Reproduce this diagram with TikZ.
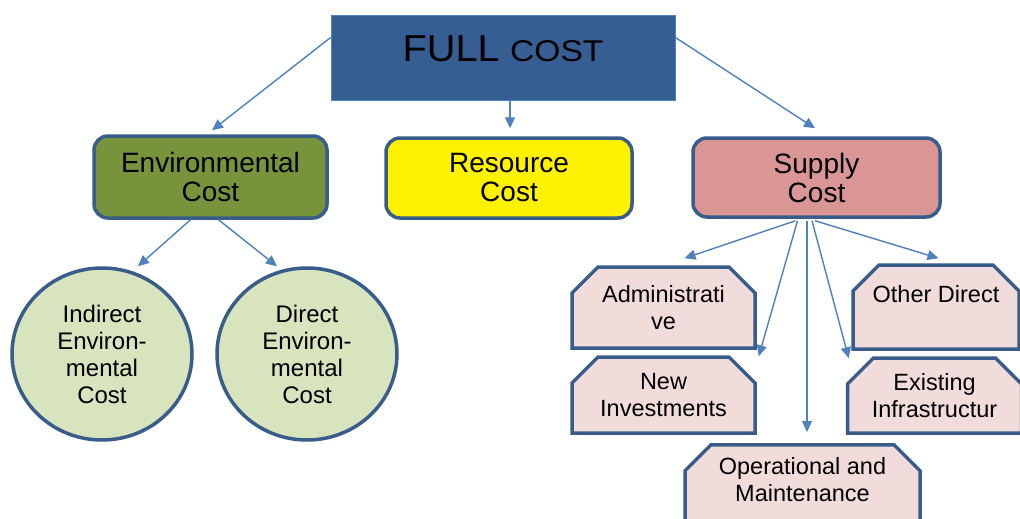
\documentclass[tikz,border=0pt]{standalone}
\usepackage{fontspec}
\usepackage{graphicx}
\setmainfont{Liberation Sans}
\usetikzlibrary{shapes.misc,shapes.geometric,arrows.meta,calc}
\definecolor{fullblue}{RGB}{54,94,146}
\definecolor{edgeblue}{RGB}{56,93,138}
\definecolor{arrowc}{RGB}{79,129,189}
\definecolor{envgreen}{RGB}{119,147,60}
\definecolor{supred}{RGB}{217,150,148}
\definecolor{pinkbox}{RGB}{242,220,219}
\definecolor{circgreen}{RGB}{215,228,189}
\begin{document}
\begin{tikzpicture}[x=1pt,y=-1pt,
  arr/.style={draw=arrowc, line width=1.4pt, -{Triangle[length=11pt,width=10pt]}},
  catbox/.style={draw=edgeblue, line width=3.5pt, rounded corners=14pt, align=center,
    font=\fontsize{28}{29}\selectfont, inner sep=0pt},
  circ/.style={ellipse, draw=edgeblue, line width=3.5pt, fill=circgreen, align=center,
    minimum width=180pt, minimum height=172pt, inner sep=0pt,
    font=\fontsize{24}{27}\selectfont},
  snip/.style={chamfered rectangle, chamfered rectangle corners={north west,north east},
    chamfered rectangle xsep=13pt, chamfered rectangle ysep=13pt,
    draw=edgeblue, line width=3.5pt, fill=pinkbox, align=center, inner sep=0pt,
    font=\fontsize{23.5}{27}\selectfont}]
\useasboundingbox (0,0) rectangle (1020,519);
\clip (0,0) rectangle (1020,519);
\fill[white] (0,0) rectangle (1020,519);

% top box
\node[fill=fullblue, draw=arrowc, line width=0.8pt, minimum width=344pt,
  text height=47pt, text depth=38pt, inner xsep=0pt, inner ysep=0pt, anchor=base,
  font=\fontsize{37.5}{40}\selectfont] (full) at (503,62)
  {\scalebox{1.06}[1]{FULL} {\fontsize{30}{30}\selectfont\scalebox{1.12}[1]{COST}}};

% category boxes
\node[catbox, fill=envgreen, minimum width=233pt, minimum height=82pt] (env) at (210.5,177) {Environmental\\Cost};
\node[catbox, fill=yellow, minimum width=246pt, minimum height=80pt] (res) at (509,178) {Resource\\Cost};
\node[catbox, fill=supred, minimum width=247pt, minimum height=79pt] (sup) at (816.5,177.5) {Supply\\Cost};

% circles
\node[circ] (ind) at (102,354) {Indirect\\Environ-\\mental\\Cost};
\node[circ] (dir) at (307,354) {Direct\\Environ-\\mental\\Cost};

% supply sub-boxes
\node[snip, minimum width=183pt, minimum height=81pt] (admin) at (663.5,307.5) {Administrati\\ve};
\node[snip, minimum width=183pt, minimum height=76pt] (newinv) at (663.5,395) {New\\Investments};
\node[snip, minimum width=166pt, minimum height=84pt] (other) at (936,307) {Other Direct\\\mbox{}};
\node[snip, minimum width=174pt, minimum height=75pt] (exist) at (934.5,395.5) {Existing\\Infrastructur};
\node[snip, minimum width=235pt, inner ysep=0pt, anchor=north] (oper) at (802.5,443)
  {Operational and\\Maintenance\\[30pt]\mbox{}};

% connectors
\draw[arr] ($(full.west)+(0,-20)$) -- ($(env.north)+(1.5,-4)$);
\draw[arr] ($(full.south)+(7,0)$) -- ($(res.north)+(1,-8)$);
\draw[arr] ($(full.east)+(0,-20)$) -- ($(sup.north)+(-1.5,-8)$);

\draw[arr] ($(env.south)+(-20,0)$) -- ($(ind.north)+(36,0)$);
\draw[arr] ($(env.south)+(8,0)$) -- ($(dir.north)+(-30,0)$);

\draw[arr] ($(sup.south)+(-21,2)$) -- ($(admin.north)+(21,-7)$);
\draw[arr] ($(sup.south)+(-19,2)$) -- ($(newinv.north -| newinv.east)+(2,1)$);
\draw[arr] ($(sup.south)+(-9.5,2)$) -- ($(oper.north)+(4.5,-11)$);
\draw[arr] ($(sup.south)+(-4.5,2)$) -- ($(exist.north -| exist.west)+(3,2)$);
\draw[arr] ($(sup.south)+(-1.5,2)$) -- ($(other.north)+(2.5,-5)$);
\end{tikzpicture}
\end{document}
